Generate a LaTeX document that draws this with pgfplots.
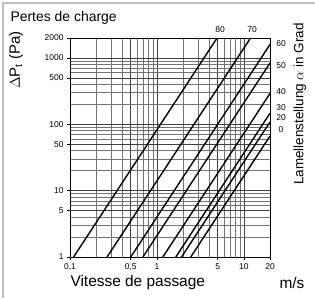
\documentclass[border=0pt]{standalone}
\usepackage{pgfplots}
\pgfplotsset{compat=1.18}
\usepackage{fontspec}
\setmainfont{Liberation Sans}
\begin{document}
\begin{tikzpicture}
\useasboundingbox (0bp,0bp) rectangle (315bp,298bp);
\draw[black!25, line width=1.2bp] (3bp,0bp) -- (3bp,295bp) -- (315bp,295bp);
\begin{axis}[
  at={(70bp,41bp)}, anchor=south west,
  width=200bp, height=219bp, scale only axis,
  xmode=log, ymode=log,
  xmin=0.1, xmax=20, ymin=1, ymax=2000,
  xtick={0.1,0.5,1,5,10,20},
  xticklabels={{0,1},{0,5},1,5,10,20},
  ytick={1,5,10,50,100,500,1000,2000},
  yticklabels={1,5,10,50,100,500,1000,2000},
  minor xtick={0.2,0.3,0.4,0.6,0.7,0.8,0.9,2,3,4,6,7,8,9},
  minor ytick={2,3,4,6,7,8,9,20,30,40,60,70,80,90,200,300,400,600,700,800,900},
  grid=both,
  major grid style={black!75, line width=0.6bp},
  minor grid style={black!55, line width=0.5bp},
  axis line style={black, line width=0.8bp},
  tick style={black, line width=0.6bp},
  major tick length=3bp, minor tick length=0bp,
  tick align=outside,
  xtick pos=bottom, ytick pos=left,
  ticklabel style={font=\fontsize{8.5}{9}\selectfont},
  /pgf/number format/assume math mode=true,
  clip=true,
]
\addplot[black, line width=1.4bp] coordinates {(0.11,1) (4.92,2000)};
\addplot[black, line width=1.4bp] coordinates {(0.267,1) (11.94,2000)};
\addplot[black, line width=1.4bp] coordinates {(0.50,1) (20,1600)};
\addplot[black, line width=1.4bp] coordinates {(0.69,1) (20,840)};
\addplot[black, line width=1.4bp] coordinates {(1.17,1) (20,292)};
\addplot[black, line width=1.4bp] coordinates {(1.65,1) (20,147)};
\addplot[black, line width=1.4bp] coordinates {(1.92,1) (20,108.5)};
\addplot[black, line width=1.4bp] coordinates {(2.45,1) (20,66.6)};
\end{axis}
\node[anchor=west, font=\fontsize{14}{16}\selectfont] at (7bp,280bp) {Pertes de charge};
\node[rotate=90, font=\fontsize{15}{17}\selectfont] at (16bp,238bp) {$\Delta$P\textsubscript{t} (Pa)};
\node[anchor=west, font=\fontsize{15.5}{17}\selectfont] at (67bp,15bp) {Vitesse de passage};
\node[anchor=west, font=\fontsize{15.5}{17}\selectfont] at (276bp,15bp) {m/s};
\node[rotate=90, font=\fontsize{13.5}{15}\selectfont] at (300bp,194bp) {Lamellenstellung $\alpha$ in Grad};
\begin{scope}[font=\fontsize{8.5}{9}\selectfont]
\node at (220bp,268bp) {80};
\node at (252bp,268bp) {70};
\node at (281bp,254bp) {60};
\node at (281bp,232bp) {50};
\node at (281bp,206bp) {40};
\node at (281bp,190bp) {30};
\node at (281bp,180bp) {20};
\node at (281bp,168bp) {0};
\end{scope}
\end{tikzpicture}
\end{document}
